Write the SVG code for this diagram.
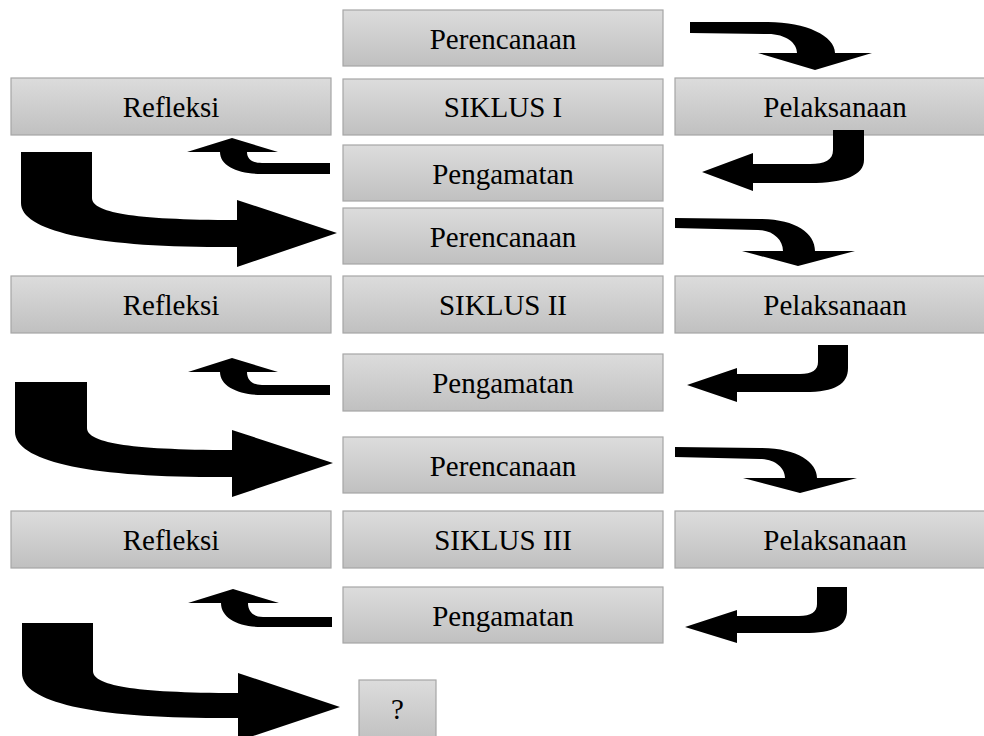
<svg xmlns="http://www.w3.org/2000/svg" width="984" height="736" viewBox="0 0 984 736">
<defs>
<linearGradient id="g" x1="0" y1="0" x2="0" y2="1">
<stop offset="0" stop-color="#dcdcdc"/>
<stop offset="1" stop-color="#c0c0c0"/>
</linearGradient>
</defs>
<style>
.b{fill:url(#g);stroke:#a6a6a6;stroke-width:1.2}
.t{font-family:"Liberation Serif","Times New Roman",serif;font-size:29px;fill:#000;text-anchor:middle}
.a{fill:#000;stroke:none}
</style>
<rect width="984" height="736" fill="#fff"/>
<g id="perencanaan1"><rect class="b" x="343" y="10" width="320" height="56"/><text class="t" x="503" y="49">Perencanaan</text></g>
<g id="refleksi1"><rect class="b" x="11" y="78" width="320" height="57"/><text class="t" x="171" y="117">Refleksi</text></g>
<g id="siklus1"><rect class="b" x="343" y="79" width="320" height="56"/><text class="t" x="503" y="117">SIKLUS I</text></g>
<g id="pelaksanaan1"><rect class="b" x="675" y="78" width="320" height="57"/><text class="t" x="835" y="117">Pelaksanaan</text></g>
<g id="pengamatan1"><rect class="b" x="343" y="145" width="320" height="56"/><text class="t" x="503" y="184">Pengamatan</text></g>
<g id="perencanaan2"><rect class="b" x="343" y="208" width="320" height="56"/><text class="t" x="503" y="247">Perencanaan</text></g>
<g id="refleksi2"><rect class="b" x="11" y="276" width="320" height="57"/><text class="t" x="171" y="315">Refleksi</text></g>
<g id="siklus2"><rect class="b" x="343" y="276" width="320" height="57"/><text class="t" x="503" y="315">SIKLUS II</text></g>
<g id="pelaksanaan2"><rect class="b" x="675" y="276" width="320" height="57"/><text class="t" x="835" y="315">Pelaksanaan</text></g>
<g id="pengamatan2"><rect class="b" x="343" y="354" width="320" height="57"/><text class="t" x="503" y="393">Pengamatan</text></g>
<g id="perencanaan3"><rect class="b" x="343" y="437" width="320" height="56"/><text class="t" x="503" y="476">Perencanaan</text></g>
<g id="refleksi3"><rect class="b" x="11" y="511" width="320" height="57"/><text class="t" x="171" y="550">Refleksi</text></g>
<g id="siklus3"><rect class="b" x="343" y="511" width="320" height="57"/><text class="t" x="503" y="550">SIKLUS III</text></g>
<g id="pelaksanaan3"><rect class="b" x="675" y="511" width="320" height="57"/><text class="t" x="835" y="550">Pelaksanaan</text></g>
<g id="pengamatan3"><rect class="b" x="343" y="587" width="320" height="56"/><text class="t" x="503" y="626">Pengamatan</text></g>
<g id="next"><rect class="b" x="359" y="680" width="77" height="62"/><text class="t" x="397.5" y="719">?</text></g>
<g id="connectors">
<path class="a" d="M690,22 L768,22 C806,22 835,36 835,53 L872,53 L815,70 L758,53 L797,53 C797,43 786,34 768,34 L690,33 Z"/>
<path class="a" d="M833,130 L864,130 L864,160 C864,175 845,183 810,183 L753,183 L753,191 L702,172 L753,153 L753,164 L810,164 C825,164 833,160 833,150 Z"/>
<path class="a" d="M330,163 L330,174 L262,174 C238,174 220,166 220,152 L187,152 L232,138 L278,152 L247,152 C247,159 252,163 262,163 Z"/>
<path class="a" d="M21,152 L92,152 L92,198 C92,212 130,220 237,220 L237,200 L337,233 L237,267 L237,247 L220,247 C90,247 21,230 21,203 Z"/>
<path class="a" d="M675,218 L760,219 C795,219 815,233 815,251 L855,251 L798,266 L742,251 L783,251 C783,239 772,230 758,230 L675,228 Z"/>
<path class="a" d="M818,345 L848,345 L848,368 C848,384 835,392 805,392 L737,392 L737,402 L687,385 L737,368 L737,374 L800,374 C812,374 818,370 818,362 Z"/>
<path class="a" d="M330,385 L330,395 L262,395 C238,395 220,386 220,372 L188,372 L232,358 L278,372 L247,372 C247,380 252,385 262,385 Z"/>
<path class="a" d="M15,382 L87,382 L87,428 C87,442 125,450 232,450 L232,430 L333,463 L232,497 L232,477 L212,477 C85,477 15,460 15,432 Z"/>
<path class="a" d="M675,447 L760,448 C797,448 817,462 817,478 L857,478 L800,493 L743,478 L785,478 C785,468 775,459 760,459 L675,457 Z"/>
<path class="a" d="M817,587 L847,587 L847,610 C847,626 834,633 804,633 L737,633 L737,643 L685,627 L737,610 L737,616 L799,616 C811,616 817,612 817,604 Z"/>
<path class="a" d="M332,617 L332,627 L262,627 C238,627 221,618 221,603 L188,603 L233,589 L279,603 L248,603 C248,611 253,617 263,617 Z"/>
<path class="a" d="M22,623 L93,623 L93,671 C93,685 131,693 238,693 L238,673 L340,707 L238,741 L238,718 L218,718 C92,718 22,702 22,673 Z"/>
</g>
</svg>
